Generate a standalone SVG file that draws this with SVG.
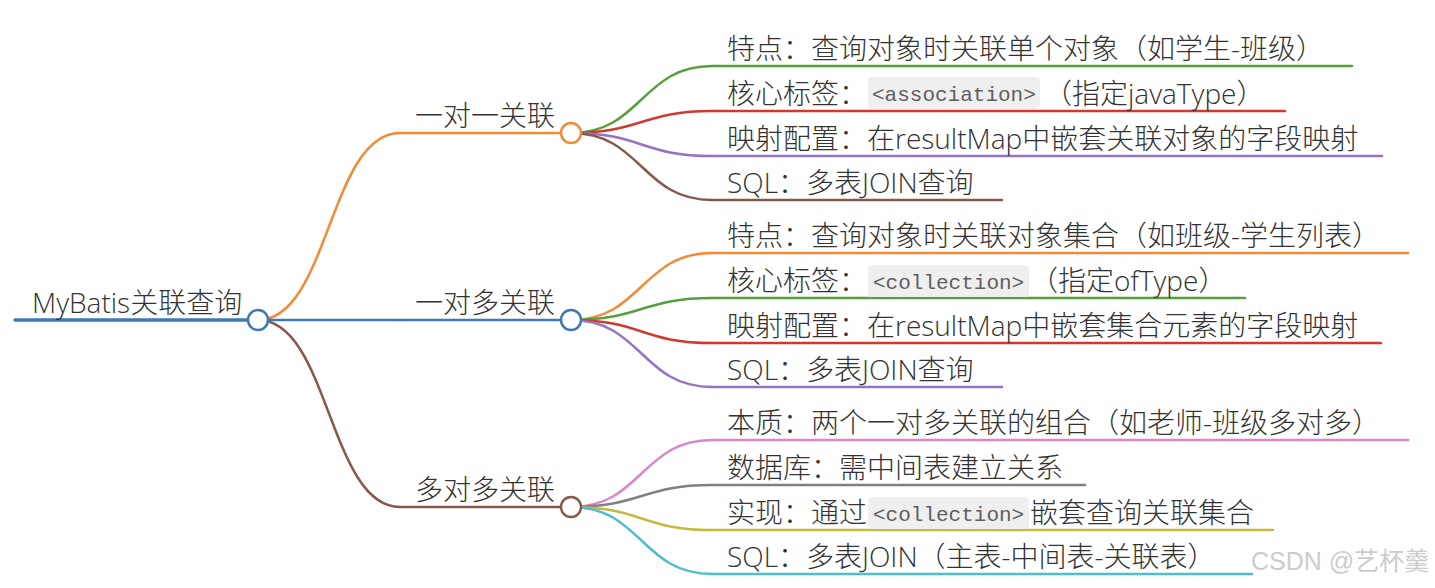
<svg xmlns="http://www.w3.org/2000/svg" width="1435" height="588" viewBox="0 0 1435 588">
<style>
  .t { font-family: "Open Sans", "Noto Sans CJK SC", sans-serif; font-size: 28px; font-weight: 300; fill: #333333; }
  .code { font-family: "Liberation Mono", "DejaVu Sans Mono", monospace; font-size: 21px; fill: #5e5e5e; }
  .box { fill: #efefef; }
  .ln { fill: none; stroke-width: 2.5; stroke-linecap: round; }
  .circ { fill: #ffffff; stroke-width: 2.5; }
  .wm { font-family: "Liberation Sans", "Noto Sans CJK SC", sans-serif; font-size: 25px; fill: #cccccc; }
  .blue { stroke: #3f79b4; }
  .orange { stroke: #f28a36; }
  .green { stroke: #55a03c; }
  .red { stroke: #cf3a30; }
  .purple { stroke: #9473c2; }
  .brown { stroke: #87594c; }
  .pink { stroke: #dc86c4; }
  .gray { stroke: #808080; }
  .olive { stroke: #c0bc40; }
  .cyan { stroke: #4fbccf; }
</style>

<g id="connectors">
  <path class="ln orange" d="M258,320 C329,320 329,133 400,133"/>
  <path class="ln blue" d="M258,320 H400"/>
  <path class="ln brown" d="M258,320 C329,320 329,507 400,507"/>
  <path class="ln green" d="M571,133 C641.5,133 641.5,66 712,66"/>
  <path class="ln red" d="M571,133 C641.5,133 641.5,111 712,111"/>
  <path class="ln purple" d="M571,133 C641.5,133 641.5,156 712,156"/>
  <path class="ln brown" d="M571,133 C641.5,133 641.5,200 712,200"/>
  <path class="ln orange" d="M571,320 C641.5,320 641.5,253 712,253"/>
  <path class="ln green" d="M571,320 C641.5,320 641.5,298 712,298"/>
  <path class="ln red" d="M571,320 C641.5,320 641.5,343 712,343"/>
  <path class="ln purple" d="M571,320 C641.5,320 641.5,387 712,387"/>
  <path class="ln pink" d="M571,507 C641.5,507 641.5,440 712,440"/>
  <path class="ln gray" d="M571,507 C641.5,507 641.5,485 712,485"/>
  <path class="ln olive" d="M571,507 C641.5,507 641.5,530 712,530"/>
  <path class="ln cyan" d="M571,507 C641.5,507 641.5,574 712,574"/>
</g>

<g id="root">
  <path class="ln blue" d="M15,320 H258" style="stroke-width:3.5"/>
  <text class="t" x="32" y="313">MyBatis关联查询</text>
  <circle class="circ blue" cx="258" cy="320" r="10"/>
</g>

<g id="one-to-one">
  <path class="ln orange" d="M400,133 H571"/>
  <text class="t" x="415" y="126">一对一关联</text>
  <circle class="circ orange" cx="571" cy="133" r="10"/>
</g>
<g id="one-to-many">
  <path class="ln blue" d="M400,320 H571"/>
  <text class="t" x="415" y="313">一对多关联</text>
  <circle class="circ blue" cx="571" cy="320" r="10"/>
</g>
<g id="many-to-many">
  <path class="ln brown" d="M400,507 H571"/>
  <text class="t" x="415" y="500">多对多关联</text>
  <circle class="circ brown" cx="571" cy="507" r="10"/>
</g>

<g id="o2o-feature">
  <path class="ln green" d="M712,66 H1352"/>
  <text class="t" x="727" y="59">特点：查询对象时关联单个对象（如学生-班级）</text>
</g>
<g id="o2o-tag">
  <path class="ln red" d="M712,111 H1285"/>
  <text class="t" x="727" y="104">核心标签：</text>
  <rect class="box" x="868" y="77" width="172" height="32" rx="4"/>
  <text class="code" x="872" y="101">&lt;association&gt;</text>
  <text class="t" x="1044" y="104">（指定javaType）</text>
</g>
<g id="o2o-mapping">
  <path class="ln purple" d="M712,156 H1382"/>
  <text class="t" x="727" y="149">映射配置：在resultMap中嵌套关联对象的字段映射</text>
</g>
<g id="o2o-sql">
  <path class="ln brown" d="M712,200 H1002"/>
  <text class="t" x="727" y="193">SQL：多表JOIN查询</text>
</g>

<g id="o2m-feature">
  <path class="ln orange" d="M712,253 H1408"/>
  <text class="t" x="727" y="246">特点：查询对象时关联对象集合（如班级-学生列表）</text>
</g>
<g id="o2m-tag">
  <path class="ln green" d="M712,298 H1245"/>
  <text class="t" x="727" y="291">核心标签：</text>
  <rect class="box" x="868" y="265" width="161" height="32" rx="4"/>
  <text class="code" x="873" y="289">&lt;collection&gt;</text>
  <text class="t" x="1030" y="291">（指定ofType）</text>
</g>
<g id="o2m-mapping">
  <path class="ln red" d="M712,343 H1381"/>
  <text class="t" x="727" y="336">映射配置：在resultMap中嵌套集合元素的字段映射</text>
</g>
<g id="o2m-sql">
  <path class="ln purple" d="M712,387 H1002"/>
  <text class="t" x="727" y="380">SQL：多表JOIN查询</text>
</g>

<g id="m2m-essence">
  <path class="ln pink" d="M712,440 H1408"/>
  <text class="t" x="727" y="433">本质：两个一对多关联的组合（如老师-班级多对多）</text>
</g>
<g id="m2m-db">
  <path class="ln gray" d="M712,485 H1085"/>
  <text class="t" x="727" y="478">数据库：需中间表建立关系</text>
</g>
<g id="m2m-impl">
  <path class="ln olive" d="M712,530 H1273"/>
  <text class="t" x="727" y="523">实现：通过</text>
  <rect class="box" x="868" y="497" width="161" height="32" rx="4"/>
  <text class="code" x="873" y="521">&lt;collection&gt;</text>
  <text class="t" x="1030" y="523">嵌套查询关联集合</text>
</g>
<g id="m2m-sql">
  <path class="ln cyan" d="M712,574 H1252"/>
  <text class="t" x="727" y="567">SQL：多表JOIN（主表-中间表-关联表）</text>
</g>

<text class="wm" x="1251" y="570">CSDN @艺杯羹</text>
</svg>
